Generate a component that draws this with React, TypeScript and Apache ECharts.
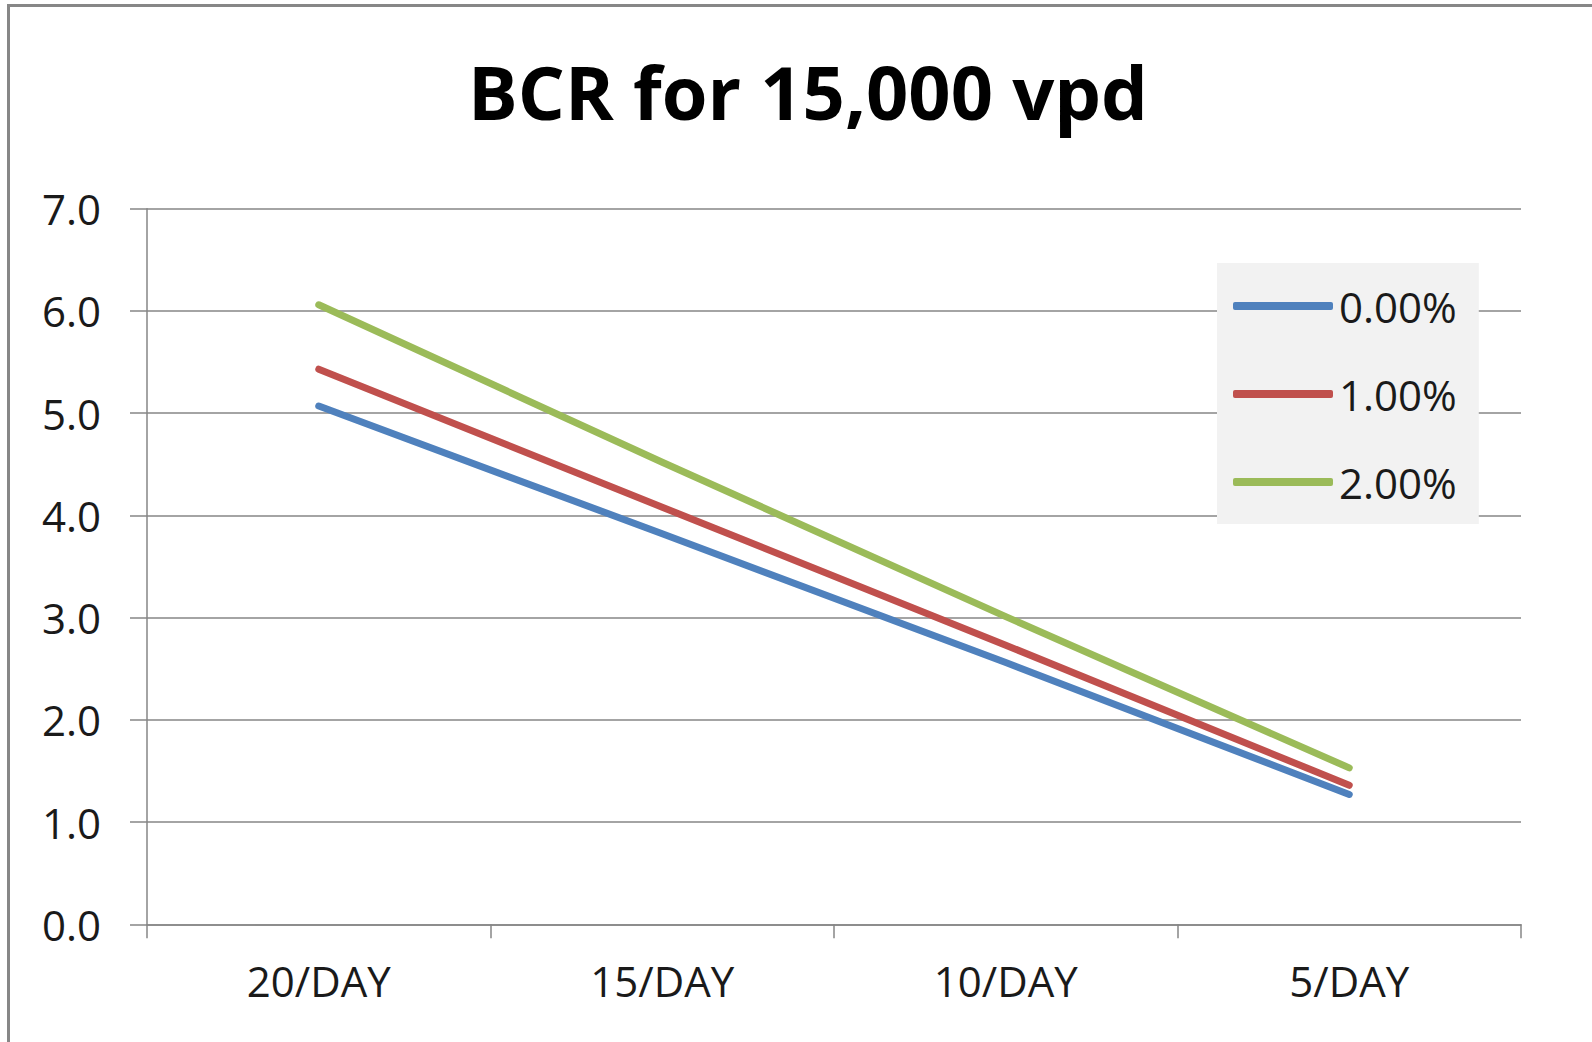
import React, { useEffect, useRef } from "react";
import * as echarts from "echarts";

const categories = ["20/DAY", "15/DAY", "10/DAY", "5/DAY"];
const seriesNames = ["0.00%", "1.00%", "2.00%"];
const rate0 = [5.07, 3.82, 2.56, 1.27];
const rate1 = [5.43, 4.08, 2.73, 1.36];
const rate2 = [6.06, 4.52, 3.01, 1.53];
const colors = ["#4F81BD", "#C0504D", "#9BBB59"];
const yTicks = [0, 1, 2, 3, 4, 5, 6, 7];

const FONT = "'Open Sans', 'Liberation Sans', sans-serif";

export default function App() {
  const ref = useRef<HTMLDivElement>(null);
  useEffect(() => {
    if (!ref.current) return;
    const chart = echarts.init(ref.current, undefined, { renderer: "svg" });
    const data = [rate0, rate1, rate2];
    chart.setOption({
      animation: false,
      backgroundColor: "#ffffff",
      title: {
        text: "BCR for 15,000 vpd",
        left: 803,
        top: 49,
        textAlign: "center",
        textStyle: { fontFamily: FONT, fontWeight: "bold", fontSize: 74, color: "#000" },
      },
      graphic: [
        {
          type: "rect",
          shape: { x: 8.5, y: 5.5, width: 1700, height: 1100 },
          style: { fill: "none", stroke: "#878787", lineWidth: 3 },
          silent: true,
        },
      ],
      legend: {
        orient: "vertical",
        left: 1217,
        top: 263,
        backgroundColor: "#f2f2f2",
        padding: [22, 22, 21, 16],
        itemGap: 46,
        itemWidth: 100,
        itemHeight: 8,
        icon: "roundRect",
        data: seriesNames,
        textStyle: { fontFamily: FONT, fontSize: 42, color: "#1a1a1a", lineHeight: 40, padding: [0, 0, 0, 1] },
      },
      grid: { left: 147, right: 71, top: 208.7, bottom: 117.7, containLabel: false },
      xAxis: {
        type: "category",
        data: categories,
        boundaryGap: true,
        axisLine: { lineStyle: { color: "#868686", width: 1.5 } },
        axisTick: { show: true, length: 14, alignWithLabel: false, lineStyle: { color: "#868686", width: 1.5 } },
        axisLabel: { fontFamily: FONT, fontSize: 42, color: "#1a1a1a", margin: 35 },
        splitLine: { show: false },
      },
      yAxis: {
        type: "value",
        min: yTicks[0],
        max: yTicks[yTicks.length - 1],
        interval: 1,
        axisLine: { show: true, lineStyle: { color: "#868686", width: 1.5 } },
        axisTick: { show: true, length: 17, lineStyle: { color: "#868686", width: 1.5 } },
        axisLabel: {
          fontFamily: FONT,
          fontSize: 42,
          color: "#1a1a1a",
          margin: 46,
          formatter: (v: number) => v.toFixed(1),
        },
        splitLine: { show: true, lineStyle: { color: "#868686", width: 1.5 } },
      },
      series: seriesNames.map((name, i) => ({
        name,
        type: "line",
        data: data[i],
        symbol: "none",
        color: colors[i],
        itemStyle: { color: colors[i] },
        lineStyle: { color: colors[i], width: 7, cap: "round", join: "round" },
      })),
    });
    return () => chart.dispose();
  }, []);
  return (
    <div
      ref={ref}
      style={{ position: "fixed", left: 0, top: 0, width: 1592, height: 1042 }}
    />
  );
}
